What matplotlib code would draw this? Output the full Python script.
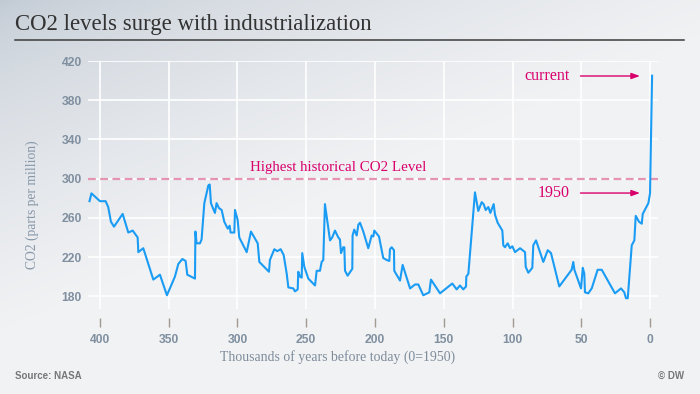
import numpy as np
import matplotlib
matplotlib.use("Agg")
import matplotlib.pyplot as plt
from matplotlib.lines import Line2D

# CO2 record: thousands of years before 1950, ppm
kyr = [407.6, 406.2, 400.0, 395.9, 394.0, 392.0, 389.8, 383.5, 379.4, 376.2,
       372.6, 372.1, 368.5, 361.2, 356.4, 351.3, 345.5, 343.0, 340.1, 337.7,
       336.5, 330.9, 330.6, 329.7, 327.3, 326.1, 324.1, 321.2, 320.2, 319.3,
       316.4, 315.2, 313.5, 311.5, 309.6, 307.1, 305.7, 305.0, 302.3, 301.8,
       299.9, 298.7, 293.3, 290.2, 285.3, 284.1, 277.1, 276.4, 273.2, 271.1,
       268.6, 266.4, 264.2, 263.0, 259.4, 258.2, 256.2, 255.8, 254.5, 253.3,
       252.9, 251.4, 248.5, 243.6, 242.4, 240.0, 238.8, 237.6, 236.4, 234.4,
       232.7, 231.1, 229.1, 226.7, 225.5, 224.7, 223.1, 222.3, 221.8, 219.9,
       216.5, 216.3, 215.1, 213.3, 212.1, 210.9, 208.5, 204.9, 202.4, 201.2,
       200.5, 197.1, 194.0, 191.5, 189.6, 189.1, 187.9, 186.2, 186.0, 181.8,
       179.9, 174.5, 170.9, 168.5, 164.9, 160.5, 159.3, 152.7, 143.8, 140.6,
       138.2, 135.8, 133.8, 133.6, 132.1, 127.3, 124.9, 122.4, 121.0, 119.5,
       117.6, 116.1, 113.7, 112.7, 110.8, 107.4, 106.7, 105.5, 103.5, 101.8,
       100.1, 98.2, 94.5, 90.9, 90.4, 88.5, 85.6, 84.9, 82.9, 77.6,
       74.4, 72.0, 66.0, 57.0, 55.8, 55.0, 50.2, 48.9, 47.8, 47.3,
       44.9, 42.4, 38.1, 35.1, 25.5, 21.1, 18.7, 17.5, 16.2, 13.3,
       11.4, 10.4, 8.0, 6.0, 5.3, 1.2, 0.0, -1.5]
co2 = [277, 285, 277, 277, 271, 256, 251, 264, 245, 247,
       240, 225, 229, 197, 202, 181, 200, 213, 218, 216,
       202, 198, 246, 234, 234, 238, 275, 293, 294, 275,
       265, 275, 270, 268, 256, 249, 252, 245, 245, 268,
       258, 240, 225, 246, 234, 215, 205, 217, 228, 226,
       228, 222, 203, 189, 188, 185, 187, 205, 200, 199,
       224, 210, 198, 191, 206, 206, 215, 217, 274, 254,
       237, 240, 247, 240, 238, 224, 230, 230, 206, 201,
       208, 242, 248, 242, 253, 255, 246, 229, 242, 241,
       247, 241, 219, 217, 216, 228, 230, 227, 206, 196,
       212, 188, 192, 192, 181, 184, 197, 183, 193, 187,
       191, 187, 190, 200, 203, 286, 267, 276, 274, 268,
       271, 265, 274, 263, 255, 247, 232, 230, 234, 229,
       231, 225, 229, 225, 210, 204, 209, 232, 237, 215,
       227, 224, 190, 207, 215, 207, 188, 209, 203, 184,
       183, 188, 207, 207, 183, 188, 184, 178, 178, 232,
       237, 262, 256, 254, 264, 275, 285, 405]

xticks = [400, 350, 300, 250, 200, 150, 100, 50, 0]
yticks = [180, 220, 260, 300, 340, 380, 420]
max_level = 300

fig = plt.figure(figsize=(7, 3.94), dpi=100)

# gradient background
bg = fig.add_axes([0, 0, 1, 1], zorder=-10)
gx, gy = np.meshgrid(np.linspace(0, 1, 350), np.linspace(0, 1, 197))
t = np.clip(gx * 0.9 + gy * 1.2, 0, 1) ** 0.6
dark = np.array([192, 201, 211]) / 255
light = np.array([241, 242, 244]) / 255
img = dark[None, None, :] * (1 - t[..., None]) + light[None, None, :] * t[..., None]
bg.imshow(img, aspect="auto", extent=[0, 1, 0, 1], origin="upper")
bg.axis("off")

ax = fig.add_axes([88 / 700, 1 - 309 / 394, 570 / 700, 248 / 394])
ax.patch.set_alpha(0)
ax.set_xlim(408.7, -5.8)
ax.set_ylim(167, 420)

ax.grid(True, color="white", linewidth=1.2)
ax.set_axisbelow(True)
for s in ["top", "right", "left"]:
    ax.spines[s].set_visible(False)
ax.spines["bottom"].set_position(("outward", 6.5))
ax.spines["bottom"].set_visible(False)

ax.set_xticks(xticks)
ax.set_yticks(yticks)
ax.tick_params(axis="x", length=6.5, width=1, color="#a39b92", pad=5,
               labelsize=8.7, labelcolor="#7f8fa0")
ax.tick_params(axis="y", length=0, pad=4.5, labelsize=8.7, labelcolor="#7f8fa0")
for lab in ax.get_xticklabels() + ax.get_yticklabels():
    lab.set_fontweight("bold")
    lab.set_family("Liberation Sans")

ax.axhline(max_level, color="#e594b2", lw=1.6, dashes=(3.5, 2), zorder=2)
ax.plot(kyr, co2, color="#1a9cf5", lw=1.5, zorder=3, solid_joinstyle="round")

pink = "#d9006c"
ax.text(290.9, 311.8, "Highest historical CO2 Level", color=pink,
        family="Liberation Serif", fontsize=10.8, ha="left", va="center")
ax.text(58.2, 404.7, "current", color=pink, family="Liberation Serif",
        fontsize=11.5, ha="right", va="center")
ax.text(58.2, 285.3, "1950", color=pink, family="Liberation Serif",
        fontsize=11.5, ha="right", va="center")
for yy in [404.7, 285.3]:
    ax.annotate("", xy=(5.3, yy), xytext=(52.6, yy),
                arrowprops=dict(arrowstyle="-|>,head_length=0.5,head_width=0.18",
                                color=pink, lw=1))

fig.text(15 / 700, 1 - 30 / 394, "CO2 levels surge with industrialization",
         family="Liberation Serif", fontsize=16.4, color="#333333", va="baseline")
fig.add_artist(Line2D([15 / 700, 684 / 700], [1 - 39.5 / 394] * 2,
                      color="#3c3c3c", lw=1.1))

fig.text(32 / 700, 1 - 205 / 394, "CO2 (parts per million)", rotation=90,
         family="Liberation Serif", fontsize=9.8, color="#8797a8",
         ha="center", va="center")
fig.text(338 / 700, 1 - 357.5 / 394, "Thousands of years before today (0=1950)",
         family="Liberation Serif", fontsize=9.9, color="#7d8b9b",
         ha="center", va="center")

fig.text(15 / 700, 1 - 376 / 394, "Source: NASA", family="Liberation Sans",
         fontweight="bold", fontsize=7, color="#777777", va="center")
fig.text(684 / 700, 1 - 376 / 394, "© DW", family="Liberation Sans",
         fontweight="bold", fontsize=7, color="#777777", va="center", ha="right")

fig.savefig("out.png", dpi=100)
